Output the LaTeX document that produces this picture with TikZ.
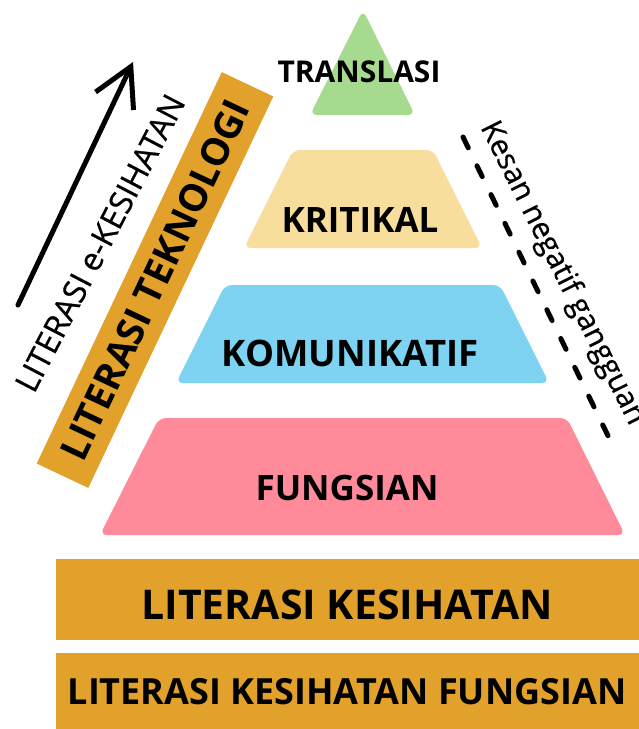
\documentclass[tikz,border=0pt]{standalone}
\usepackage{fontspec}
\setmainfont{Open Sans}
\newfontfamily\medfont{Open Sans}[FakeBold=0.6]
\usetikzlibrary{arrows.meta}
\definecolor{lvlgreen}{HTML}{A6DA8F}
\definecolor{lvlyellow}{HTML}{F8DE9C}
\definecolor{lvlblue}{HTML}{7DD3F1}
\definecolor{lvlpink}{HTML}{FE8A9A}
\definecolor{barorange}{HTML}{E2A12A}
\tikzset{level/.style={rounded corners=7pt}}
\tikzset{lbl/.style={inner sep=0pt, font=\bfseries\fontsize{#1}{#1}\selectfont}}
\tikzset{lbl/.default=34}
\tikzset{thin lbl/.style={inner sep=0pt, font=\medfont\fontsize{#1}{#1}\selectfont}}
\tikzset{barbox/.style={fill=barorange, inner sep=0pt, minimum width=583pt}}
\begin{document}
\begin{tikzpicture}[x=1pt, y=-1pt]
  \useasboundingbox (0,0) rectangle (639,729);
  \fill[lvlgreen, level] (363,10) -- (415,115) -- (310,115) -- cycle;
  \fill[lvlyellow, level] (293,150) -- (433,150) -- (482,248) -- (244,248) -- cycle;
  \fill[lvlblue, level] (225,285) -- (500,285) -- (549,383) -- (176,383) -- cycle;
  \fill[lvlpink, level] (159,418) -- (567,418) -- (625,535) -- (100,535) -- cycle;
  \node[lbl=30] (translasi) at (359,72) {TRANSLASI};
  \node[lbl=35] (kritikal) at (360,220) {KRITIKAL};
  \node[lbl=36.5] (komunikatif) at (350,353) {KOMUNIKATIF};
  \node[lbl=35] (fungsian) at (347,488) {FUNGSIAN};
  \node[barbox, minimum height=81pt] (litkes) at (347.5,599.5) {};
  \node[lbl=41] (litkestxt) at (347,605) {LITERASI KESIHATAN};
  \node[barbox, minimum height=76pt] (litkesf) at (347.5,691) {};
  \node[lbl=36] (litkesftxt) at (347,692) {LITERASI KESIHATAN FUNGSIAN};
  \node[lbl=38, fill=barorange, minimum width=433pt, minimum height=57pt, rotate=64.7] (teknologi) at (155,280) {LITERASI TEKNOLOGI};
  \node[thin lbl=32, rotate=62.5] (ekes) at (100,243) {LITERASI e-KESIHATAN};
  \coordinate (arrS) at (18,305);
  \coordinate (arrE) at (133,62);
  \draw[line width=5pt, line cap=round, -{Straight Barb[length=38pt, width=42pt]}] (arrS) -- (arrE);
  \coordinate (dashS) at (463,137);
  \coordinate (dashE) at (612,444);
  \draw[line width=5pt, line cap=round, dash pattern=on 12pt off 20pt] (dashS) -- (dashE);
  \node[thin lbl=30, rotate=-63.4, anchor=base west] (kesan) at (480,127) {Kesan negatif gangguan};
\end{tikzpicture}
\end{document}
